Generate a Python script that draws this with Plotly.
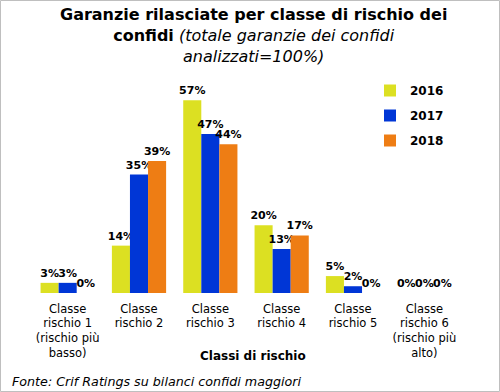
import plotly.graph_objects as go

categories = ["Classe<br>rischio 1<br>(rischio più<br>basso)", "Classe<br>rischio 2", "Classe<br>rischio 3",
              "Classe<br>rischio 4", "Classe<br>rischio 5", "Classe<br>rischio 6<br>(rischio più<br>alto)"]
years = ["2016", "2017", "2018"]
v2016 = [3, 14, 57, 20, 5, 0]
v2017 = [3, 35, 47, 13, 2, 0]
v2018 = [0, 39, 44, 17, 0, 0]
colors = ["#DCE022", "#0036D6", "#EE7D14"]

FONT = "DejaVu Sans"
W, H = 500, 392
L, R, T, B = 32, 40, 90, 99
pw = W - L - R
ph = H - T - B

fig = go.Figure()
for name, vals, col in zip(years, [v2016, v2017, v2018], colors):
    fig.add_trace(go.Bar(
        x=categories, y=vals, name=name, marker_color=col, marker_line_width=0,
        text=[f"<b>{v}%</b>" for v in vals], textposition="outside", constraintext="none",
        textfont=dict(family=FONT, size=11, color="black"), cliponaxis=False,
        legendgroup=name,
    ))

fig.update_layout(
    width=W, height=H, margin=dict(l=L, r=R, t=T, b=B),
    paper_bgcolor="white", plot_bgcolor="white",
    barmode="group", bargap=0.24, bargroupgap=0,
    font=dict(family=FONT, color="black"),
    showlegend=True,
    legend=dict(x=(370 - L) / pw, y=(H - B - 76) / ph, xanchor="left", yanchor="top",
                font=dict(family=FONT, size=12, color="black", weight="bold"), tracegroupgap=6,
                bgcolor="rgba(0,0,0,0)", itemwidth=30),
    xaxis=dict(showline=False, showgrid=False, ticks="", tickfont=dict(family=FONT, size=11.5, color="black"),
               tickangle=0, ticklabelstandoff=7),
    yaxis=dict(visible=False, range=[0, 60]),
)

fig.add_annotation(
    xref="paper", yref="paper", x=(253 - L) / pw, y=(H - B - 3) / ph, xanchor="center", yanchor="top",
    text="<b>Garanzie rilasciate per classe di rischio dei<br>confidi</b> <i>(totale garanzie dei confidi<br>analizzati=100%)</i>",
    showarrow=False, font=dict(family=FONT, size=16, color="black"), align="center",
)
fig.add_annotation(
    xref="paper", yref="paper", x=(253 - L) / pw, y=(H - B - 356) / ph, xanchor="center", yanchor="middle",
    text="<b>Classi di rischio</b>", showarrow=False, font=dict(family=FONT, size=12, color="black"),
)
fig.add_annotation(
    xref="paper", yref="paper", x=(10 - L) / pw, y=(H - B - 381) / ph, xanchor="left", yanchor="middle",
    text="<i>Fonte: Crif Ratings su bilanci confidi maggiori</i>", showarrow=False,
    font=dict(family=FONT, size=12.7, color="black"),
)
fig.add_shape(
    type="rect", xref="paper", yref="paper",
    x0=(0.5 - L) / pw, x1=(W - 0.5 - L) / pw, y0=(H - B - (H - 0.5)) / ph, y1=(H - B - 0.5) / ph,
    line=dict(color="#BFBFBF", width=1), fillcolor="rgba(0,0,0,0)", layer="above",
)

fig.write_html("out.html", config={"displayModeBar": False},
               post_script="document.body.style.margin='0';")
